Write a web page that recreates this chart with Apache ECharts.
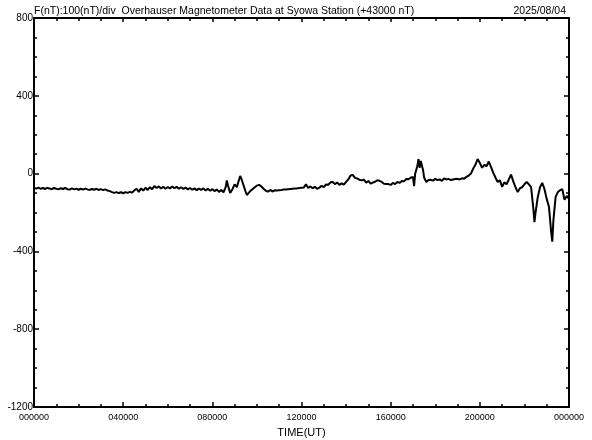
<!DOCTYPE html>
<html><head><meta charset="utf-8">
<script src="https://cdn.jsdelivr.net/npm/echarts@6/dist/echarts.min.js"></script>
<style>html,body{margin:0;padding:0;background:#fff}#c{width:592px;height:440px}</style>
</head><body><div id="c"></div>
<script>
const titleText = 'F(nT):100(nT)/div  Overhauser Magnetometer Data at Syowa Station (+43000 nT)';
const dateText = '2025/08/04';
const xName = 'TIME(UT)';
const hours = [0.0,0.1,0.2,0.3,0.4,0.5,0.6,0.7,0.8,0.9,1.0,1.1,1.2,1.3,1.4,1.5,1.6,1.7,1.8,1.9,2.0,2.1,2.2,2.3,2.4,2.5,2.6,2.7,2.8,2.9,3.0,3.1,3.2,3.3,3.4,
3.5,3.6,3.7,3.8,3.9,4.0,4.1,4.2,4.3,4.4,
4.5,4.6,4.7,4.8,4.9,5.0,5.1,5.2,5.3,5.4,5.5,5.6,5.7,5.8,5.9,6.0,6.1,6.2,6.3,6.4,6.5,6.6,6.7,6.8,6.9,7.0,7.1,7.2,7.3,7.4,7.5,7.6,7.7,7.8,7.9,8.0,8.1,8.2,8.3,8.4,8.5,8.6,8.65,8.7,8.8,8.9,9.0,9.1,9.2,9.25,9.3,9.35,9.4,9.5,9.55,9.6,9.7,9.8,9.9,10.0,10.1,10.2,10.3,10.4,10.5,10.6,10.7,10.8,10.9,11.0,11.1,11.2,11.3,11.4,11.5,11.6,11.7,11.8,11.9,12.0,12.1,12.2,12.3,12.4,12.5,12.6,12.7,12.8,12.9,13.0,13.1,13.2,13.3,13.4,13.5,13.6,13.7,13.8,13.9,14.0,14.1,14.2,14.3,14.4,14.5,14.6,14.7,14.8,14.9,15.0,15.1,15.2,15.3,15.4,15.5,15.6,15.7,15.8,15.9,16.0,16.1,16.2,16.3,16.4,16.5,16.6,16.7,16.8,16.9,17.0,17.05,17.1,17.2,17.25,17.3,17.35,17.4,17.45,17.5,17.6,17.7,17.8,17.9,18.0,18.1,18.2,18.3,18.4,18.5,18.6,18.7,18.8,18.9,19.0,19.1,19.2,19.3,19.4,19.5,19.6,19.7,19.8,19.9,20.0,20.1,20.2,20.3,20.4,20.5,20.6,20.7,20.8,20.9,21.0,21.1,21.2,21.3,21.4,21.5,21.6,21.7,21.8,21.9,22.0,22.1,22.2,22.3,22.4,22.45,22.5,22.6,22.7,22.8,22.9,23.0,23.1,23.2,23.25,23.3,23.4,23.5,23.6,23.7,23.8,23.9,24.0];
const values = [-74,-77,-72,-78,-74,-79,-73,-77,-80,-74,-78,-81,-75,-79,-74,-80,-82,-76,-81,-77,-83,-78,-82,-77,-81,-84,-79,-83,-78,-84,-80,-85,-81,-87,-90,
-95,-99,-95,-100,-96,-101,-95,-99,-94,-98,
-86,-78,-94,-76,-87,-73,-84,-70,-80,-64,-74,-66,-77,-68,-78,-69,-76,-66,-75,-68,-78,-70,-79,-72,-82,-74,-83,-76,-85,-77,-84,-76,-87,-78,-88,-80,-90,-82,-94,-84,-96,-70,-35,-60,-100,-80,-55,-70,-30,-12,-25,-15,-60,-95,-110,-100,-90,-80,-70,-62,-58,-66,-78,-88,-93,-84,-92,-86,-87,-85,-84,-82,-82,-80,-79,-78,-77,-76,-74,-73,-72,-55,-74,-66,-75,-68,-78,-72,-63,-70,-56,-57,-45,-43,-54,-46,-58,-50,-57,-43,-30,-10,-7,-22,-25,-32,-35,-31,-47,-38,-52,-46,-42,-34,-37,-43,-52,-53,-54,-58,-48,-54,-43,-48,-38,-40,-28,-29,-21,-17,-65,0,40,75,30,65,70,20,-20,-43,-33,-32,-36,-27,-33,-30,-38,-24,-30,-27,-33,-30,-28,-27,-30,-24,-26,-17,-10,0,25,45,75,55,30,45,38,62,35,5,-20,-43,-35,-68,-45,-55,-30,-5,-40,-70,-95,-75,-70,-55,-43,-55,-70,-180,-250,-200,-120,-70,-48,-80,-130,-170,-300,-350,-240,-120,-95,-85,-80,-135,-115,-130];
const xMin = 0, xMax = 24, yMin = -1200, yMax = 800;

const data = hours.map((h, i) => [h, values[i]]);
const fmtX = v => (v % 4 === 0) ? String(v % 24).padStart(2, '0') + '0000' : '';
const font = 'Liberation Sans';
const axisLine = {show: true, onZero: false, lineStyle: {color: '#000', width: 2}};
const chart = echarts.init(document.getElementById('c'), null, {renderer: 'canvas'});
chart.setOption({
  animation: false,
  backgroundColor: '#fff',
  title: [
    {text: titleText, left: 29, top: 1, textStyle: {fontFamily: font, fontSize: 10.5, fontWeight: 'normal', color: '#000'}},
    {text: dateText, right: 21, top: 1, textStyle: {fontFamily: font, fontSize: 10.5, fontWeight: 'normal', color: '#000'}}
  ],
  grid: {left: 34, right: 23, top: 18, bottom: 33, containLabel: false, outerBoundsMode: 'none'},
  xAxis: [
    {type: 'value', min: xMin, max: xMax, interval: 4, position: 'bottom',
     axisLine, splitLine: {show: false},
     axisTick: {show: true, inside: true, length: 5, lineStyle: {color: '#000', width: 1.5}},
     minorTick: {show: true, splitNumber: 4, length: 3, lineStyle: {color: '#000', width: 1.5}},
     axisLabel: {formatter: fmtX, fontFamily: font, fontSize: 9, color: '#000', margin: 6, showMaxLabel: true, showMinLabel: true},
     name: xName, nameLocation: 'middle', nameGap: 20, nameTextStyle: {fontFamily: font, fontSize: 11, color: '#000'}},
    {type: 'value', min: xMin, max: xMax, interval: 4, position: 'top',
     axisLine, splitLine: {show: false},
     axisTick: {show: true, inside: true, length: 4, lineStyle: {color: '#000', width: 1.5}},
     minorTick: {show: true, splitNumber: 4, length: 3, lineStyle: {color: '#000', width: 1.5}},
     axisLabel: {show: false}}
  ],
  yAxis: [
    {type: 'value', min: yMin, max: yMax, interval: 400, position: 'left',
     axisLine, splitLine: {show: false},
     axisTick: {show: true, inside: true, length: 5, lineStyle: {color: '#000', width: 1.5}},
     minorTick: {show: true, splitNumber: 4, length: 3, lineStyle: {color: '#000', width: 1.5}},
     axisLabel: {formatter: v => String(v), fontFamily: font, fontSize: 10, color: '#000', margin: 1}},
    {type: 'value', min: yMin, max: yMax, interval: 400, position: 'right',
     axisLine, splitLine: {show: false},
     axisTick: {show: true, inside: true, length: 5, lineStyle: {color: '#000', width: 1.5}},
     minorTick: {show: true, splitNumber: 4, length: 3, lineStyle: {color: '#000', width: 1.5}},
     axisLabel: {show: false}}
  ],
  series: [{
    type: 'line', xAxisIndex: 0, yAxisIndex: 0, data, showSymbol: false,
    lineStyle: {color: '#000', width: 2}, itemStyle: {color: '#000'}
  }]
});
</script></body></html>
